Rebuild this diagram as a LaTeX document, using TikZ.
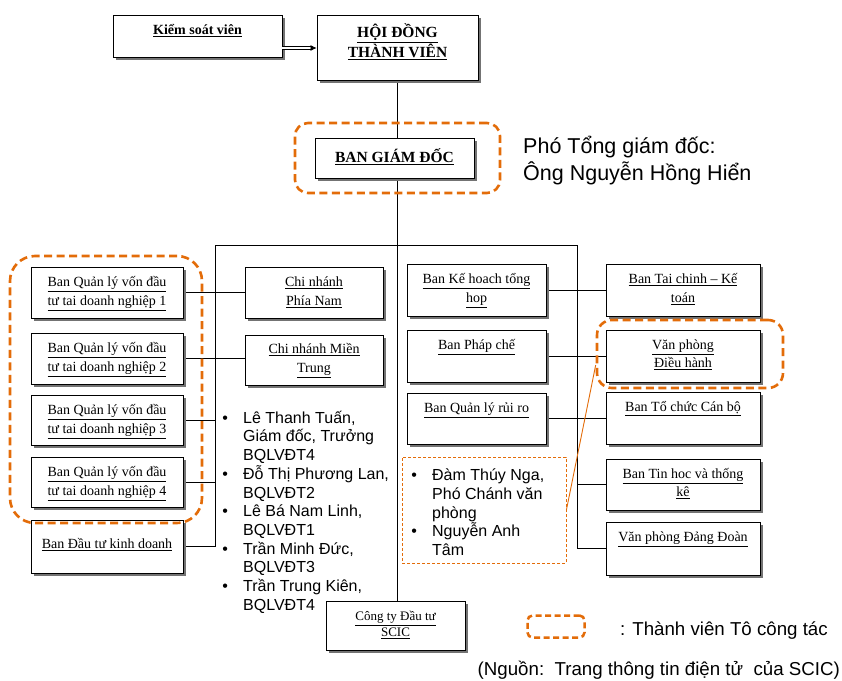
\documentclass[tikz,border=0pt]{standalone}
\usepackage{fontspec}
\setmainfont{Liberation Serif}
\newfontfamily\arialf{Liberation Sans}
\usetikzlibrary{arrows.meta}
\definecolor{grporange}{RGB}{227,108,9}
\newcommand\uln[1]{\underline{#1}}
\newcommand\firstln[1]{\rule{0pt}{#1}}
\newcommand\blt{\makebox[22pt][l]{\hspace{1.2pt}•}}
\newcommand\bltind{\hspace*{22pt}}

\pgfdeclarelayer{bg}
\pgfdeclarelayer{paper}
\pgfsetlayers{paper,bg,main}

\tikzset{
  orgbox/.style={draw=black, line width=0.9pt, fill=white, inner sep=0pt,
    preaction={draw=none, fill=black!55, transform canvas={xshift=3pt, yshift=-3pt}}},
  boxtext/.style={anchor=north, inner sep=0pt, align=center,
    font=\fontsize{14}{19}\selectfont},
  link/.style={draw=black, line width=0.8pt},
  grp/.style={draw=grporange, line width=2.6pt, dash pattern=on 8pt off 4.5pt,
    rounded corners=#1, inner sep=0pt},
  notebox/.style={draw=grporange, line width=0.8pt, dash pattern=on 3pt off 2pt, inner sep=0pt},
  listtext/.style={anchor=north west, inner sep=0pt, align=left,
    font=\arialf\fontsize{16}{18.7}\selectfont},
}

\begin{document}
\begin{tikzpicture}[x=1pt, y=-1pt]
\begin{pgfonlayer}{paper}
  \fill[white] (0,0) rectangle (842,680);
\end{pgfonlayer}
\useasboundingbox (0,0) rectangle (842,680);

% ---- top of the chart
\node[orgbox, minimum width=169pt, minimum height=42pt] (ksv) at (197.5,36) {};
\node[boxtext, font=\bfseries\fontsize{14}{19}\selectfont] (ksvt) at ([yshift=-6pt]ksv.north)
  {\firstln{14pt}\uln{Kiểm soát viên}};

\node[orgbox, minimum width=161pt, minimum height=65pt] (hdtv) at (397.5,47.5) {};
\node[boxtext, font=\bfseries\fontsize{15.5}{20}\selectfont] (hdtvt) at ([yshift=-8pt]hdtv.north)
  {\firstln{15pt}\uln{HỘI ĐỒNG}\\\uln{THÀNH VIÊN}};

\node[orgbox, minimum width=159pt, minimum height=40pt] (bgd) at (394.5,158) {};
\node[boxtext, font=\bfseries\fontsize{15.5}{20}\selectfont] (bgdt) at ([yshift=-9.5pt]bgd.north)
  {\firstln{15pt}\uln{BAN GIÁM ĐỐC}};

% ---- left column
\node[orgbox, minimum width=152pt, minimum height=51pt] (b1) at (107,292.5) {};
\node[boxtext] (b1t) at ([yshift=-6pt]b1.north)
  {\firstln{14pt}\uln{Ban Quản lý vốn đầu}\\\uln{tư tai doanh nghiệp 1}};
\node[orgbox, minimum width=152pt, minimum height=51pt] (b2) at (107,358.5) {};
\node[boxtext] (b2t) at ([yshift=-6pt]b2.north)
  {\firstln{14pt}\uln{Ban Quản lý vốn đầu}\\\uln{tư tai doanh nghiệp 2}};
\node[orgbox, minimum width=152pt, minimum height=50pt] (b3) at (107,420) {};
\node[boxtext] (b3t) at ([yshift=-6pt]b3.north)
  {\firstln{14pt}\uln{Ban Quản lý vốn đầu}\\\uln{tư tai doanh nghiệp 3}};
\node[orgbox, minimum width=152pt, minimum height=50pt] (b4) at (107,482) {};
\node[boxtext] (b4t) at ([yshift=-6pt]b4.north)
  {\firstln{14pt}\uln{Ban Quản lý vốn đầu}\\\uln{tư tai doanh nghiệp 4}};
\node[orgbox, minimum width=152pt, minimum height=53pt] (b5) at (107,546.5) {};
\node[boxtext] (b5t) at ([yshift=-14.5pt]b5.north)
  {\firstln{14pt}\uln{Ban Đầu tư kinh doanh}};

% ---- branches
\node[orgbox, minimum width=138pt, minimum height=51pt] (cn1) at (314,292.5) {};
\node[boxtext] (cn1t) at ([yshift=-6pt]cn1.north)
  {\firstln{14pt}\uln{Chi nhánh}\\\uln{Phía Nam}};
\node[orgbox, minimum width=138pt, minimum height=50pt] (cn2) at (314,360) {};
\node[boxtext] (cn2t) at ([yshift=-5pt]cn2.north)
  {\firstln{14pt}\uln{Chi nhánh Miền}\\\uln{Trung}};

% ---- middle column
\node[orgbox, minimum width=139pt, minimum height=52pt] (m1) at (476.5,290) {};
\node[boxtext] (m1t) at ([yshift=-6pt]m1.north)
  {\firstln{14pt}\uln{Ban Kế hoach tổng}\\\uln{hop}};
\node[orgbox, minimum width=139pt, minimum height=52pt] (m2) at (476.5,356) {};
\node[boxtext] (m2t) at ([yshift=-6pt]m2.north)
  {\firstln{14pt}\uln{Ban Pháp chế}};
\node[orgbox, minimum width=139pt, minimum height=51pt] (m3) at (476.5,418.5) {};
\node[boxtext] (m3t) at ([yshift=-6pt]m3.north)
  {\firstln{14pt}\uln{Ban Quản lý rủi ro}};

% ---- right column
\node[orgbox, minimum width=154pt, minimum height=52pt] (r1) at (683,290) {};
\node[boxtext] (r1t) at ([yshift=-6pt]r1.north)
  {\firstln{14pt}\uln{Ban Tai chinh – Kế}\\\uln{toán}};
\node[orgbox, minimum width=154pt, minimum height=52pt] (r2) at (683,356) {};
\node[boxtext, font=\fontsize{14}{18}\selectfont] (r2t) at ([yshift=-6pt]r2.north)
  {\firstln{14pt}\uln{Văn phòng}\\\uln{Điều hành}};
\node[orgbox, minimum width=154pt, minimum height=52pt] (r3) at (683,418) {};
\node[boxtext] (r3t) at ([yshift=-6pt]r3.north)
  {\firstln{14pt}\uln{Ban Tổ chức Cán bộ}};
\node[orgbox, minimum width=154pt, minimum height=51pt] (r4) at (683,484.5) {};
\node[boxtext, font=\fontsize{14}{18}\selectfont] (r4t) at ([yshift=-6pt]r4.north)
  {\firstln{14pt}\uln{Ban Tin hoc và thống}\\\uln{kê}};
\node[orgbox, minimum width=154pt, minimum height=53pt] (r5) at (683,548.5) {};
\node[boxtext] (r5t) at ([yshift=-6pt]r5.north)
  {\firstln{14pt}\uln{Văn phòng Đảng Đoàn}};

% ---- investment company
\node[orgbox, minimum width=139pt, minimum height=49pt] (cty) at (395.5,625.5) {};
\node[boxtext, font=\fontsize{13}{16}\selectfont] (ctyt) at ([yshift=-6pt]cty.north)
  {\firstln{14pt}\uln{Công ty Đầu tư}\\\uln{SCIC}};

% ---- bus coordinates
\coordinate (busL) at (215,245);
\coordinate (busR) at (577,245);

% ---- connectors, kept underneath the boxes
\begin{pgfonlayer}{bg}
  \draw[link] (hdtv.south) -- (hdtv.south |- cty.north);
  \draw[link] (busL) -- (busR);
  \draw[link] (busL) -- (busL |- b5.east);
  \draw[link] (busR) -- (busR |- r5.west);
  \draw[link] (b1.east) -- (cn1.west);
  \draw[link] (b2.east) -- (b2.east -| cn2.west);
  \draw[link] (b3.east) -- (b3.east -| busL);
  \draw[link] (b4.east) -- (b4.east -| busL);
  \draw[link] (b5.east) -- (b5.east -| busL);
  \draw[link] (m1.east) -- (r1.west);
  \draw[link] (m2.east) -- (r2.west);
  \draw[link] (m3.east) -- (m3.east -| r3.west);
  \draw[link] (r4.west -| busR) -- (r4.west);
  \draw[link] (r5.west -| busR) -- (r5.west);
\end{pgfonlayer}
\draw[double, double distance=2.2pt, line width=0.7pt, -{Latex[length=6pt,width=6pt]}]
  ([yshift=-12pt]ksv.east) -- ([yshift=-12pt]ksv.east -| hdtv.west);

% ---- working-group outlines
\node[grp=13pt, minimum width=205pt, minimum height=70pt] (grpB) at (397.5,158) {};
\node[grp=25pt, minimum width=192pt, minimum height=267pt] (grpL) at (106,389.5) {};
\node[grp=15pt, minimum width=186pt, minimum height=68pt] (grpR) at (690,354) {};

% ---- annotations
\node[anchor=north west, inner sep=0pt, align=left,
      font=\arialf\fontsize{21.5}{27}\selectfont] (pho) at (523,133)
  {\firstln{20pt}Phó Tổng giám đốc:\\Ông Nguyễn Hồng Hiển};

\node[listtext] (lstL) at (221,407)
  {\firstln{16pt}\blt Lê Thanh Tuấn,\\
   \bltind Giám đốc, Trưởng\\
   \bltind BQLVĐT4\\
   \blt Đỗ Thị Phương Lan,\\
   \bltind BQLVĐT2\\
   \blt Lê Bá Nam Linh,\\
   \bltind BQLVĐT1\\
   \blt Trần Minh Đức,\\
   \bltind BQLVĐT3\\
   \blt Trần Trung Kiên,\\
   \bltind BQLVĐT4};

\node[notebox, minimum width=164pt, minimum height=106pt] (notes) at (484,510) {};
\node[listtext] (lstR) at (410,464.5)
  {\firstln{16pt}\blt Đàm Thúy Nga,\\
   \bltind Phó Chánh văn\\
   \bltind phòng\\
   \blt Nguyễn Anh\\
   \bltind Tâm};
\draw[grporange, line width=0.9pt] (notes.east) -- ([yshift=-11pt]grpR.west);

% ---- legend and source
\node[grp=5pt, line width=2.5pt, dash pattern=on 6pt off 3.5pt,
      minimum width=57pt, minimum height=22pt] (leg) at (556,626.5) {};
\node[anchor=base west, inner sep=0pt, font=\arialf\fontsize{18.7}{22}\selectfont]
  (legt) at (620,635) {: Thành viên Tô công tác};
\node[anchor=base east, inner sep=0pt, font=\arialf\fontsize{18.7}{22}\selectfont]
  (src) at (840,675) {(Nguồn:\ \ Trang thông tin điện tử\ \ của SCIC)};
\end{tikzpicture}
\end{document}
